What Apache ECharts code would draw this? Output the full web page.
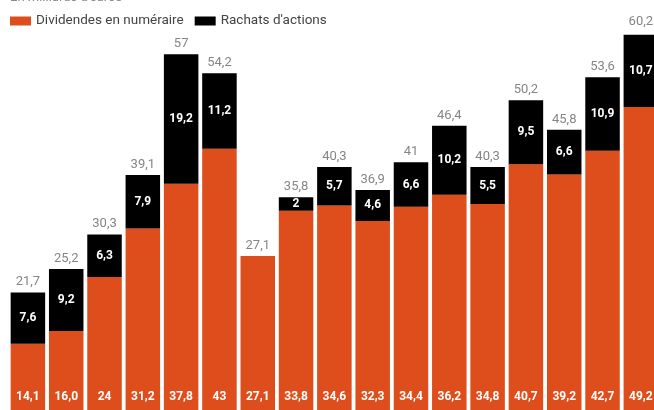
<!DOCTYPE html>
<html>
<head>
<meta charset="utf-8">
<script src="https://cdn.jsdelivr.net/npm/echarts@6/dist/echarts.min.js"></script>
<style>
html,body{margin:0;padding:0;overflow:hidden;background:#fff;width:654px;height:410px;}
#c{width:660px;height:439px;}
</style>
</head>
<body>
<div id="c"></div>
<script>
var categories = ['1','2','3','4','5','6','7','8','9','10','11','12','13','14','15','16','17'];
var dividendes = [14.1, 16.0, 24, 31.2, 37.8, 43, 27.1, 33.8, 34.6, 32.3, 34.4, 36.2, 34.8, 40.7, 39.2, 42.7, 49.2];
var dividendesLabels = ['14,1','16,0','24','31,2','37,8','43','27,1','33,8','34,6','32,3','34,4','36,2','34,8','40,7','39,2','42,7','49,2'];
var rachats = [7.6, 9.2, 6.3, 7.9, 19.2, 11.2, null, 2, 5.7, 4.6, 6.6, 10.2, 5.5, 9.5, 6.6, 10.9, 10.7];
var rachatsLabels = ['7,6','9,2','6,3','7,9','19,2','11,2','','2','5,7','4,6','6,6','10,2','5,5','9,5','6,6','10,9','10,7'];
var totals = [21.7, 25.2, 30.3, 39.1, 57, 54.2, 27.1, 35.8, 40.3, 36.9, 41, 46.4, 40.3, 50.2, 45.8, 53.6, 60.2];
var totalsLabels = ['21,7','25,2','30,3','39,1','57','54,2','27,1','35,8','40,3','36,9','41','46,4','40,3','50,2','45,8','53,6','60,2'];

var ORANGE = '#DE4E1D';
var FONT = 'Roboto';

var chart = echarts.init(document.getElementById('c'), null, {renderer: 'canvas'});
chart.setOption({
  animation: false,
  textStyle: {fontFamily: FONT},
  graphic: [{
    type: 'text', left: 10, top: -9,
    style: {text: "En milliards d'euros", fill: '#888', font: '13px Roboto'}
  }],
  legend: {
    left: 10, top: 14, padding: 0,
    itemWidth: 21, itemHeight: 9, itemGap: 11,
    icon: 'rect',
    textStyle: {fontSize: 13.5, color: '#444', fontFamily: FONT},
    data: ['Dividendes en numéraire', "Rachats d'actions"]
  },
  grid: {left: 8.75, right: 0, top: 7, bottom: 0, containLabel: false},
  xAxis: {
    type: 'category', data: categories,
    axisLine: {show: false}, axisTick: {show: false}, axisLabel: {show: false}
  },
  yAxis: {
    type: 'value', min: 0, max: 64,
    splitLine: {show: false}, axisLabel: {show: false}, axisLine: {show: false}, axisTick: {show: false}
  },
  series: [
    {
      name: 'Dividendes en numéraire', type: 'bar', stack: 's',
      barWidth: 34.5, itemStyle: {color: ORANGE},
      data: dividendes,
      label: {
        show: true, position: 'insideBottom', distance: 36,
        color: '#fff', fontWeight: 'bold', fontSize: 12, fontFamily: FONT,
        formatter: function (p) { return dividendesLabels[p.dataIndex]; }
      }
    },
    {
      name: "Rachats d'actions", type: 'bar', stack: 's',
      barWidth: 34.5, itemStyle: {color: '#000'},
      data: rachats,
      label: {
        show: true, position: 'inside',
        color: '#fff', fontWeight: 'bold', fontSize: 12, fontFamily: FONT,
        formatter: function (p) { return rachatsLabels[p.dataIndex]; }
      }
    },
    {
      name: 'Total', type: 'scatter', symbolSize: 0, silent: true,
      data: totals.map(function (v, i) { return [i, v]; }),
      label: {
        show: true, position: 'top', distance: 4,
        color: '#666', fontSize: 13, fontFamily: FONT, fontWeight: 'normal',
        formatter: function (p) { return totalsLabels[p.dataIndex]; }
      }
    }
  ]
});
</script>
</body>
</html>
